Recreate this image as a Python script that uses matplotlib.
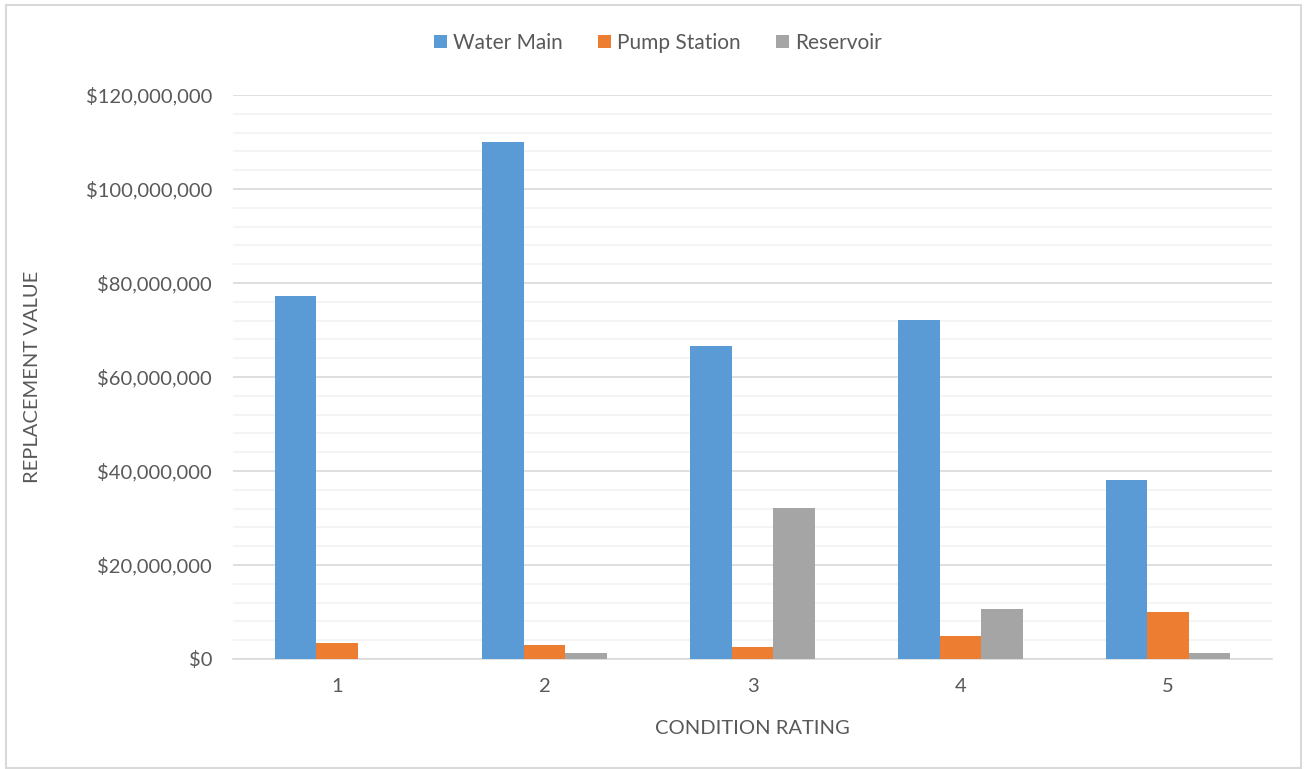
import matplotlib.pyplot as plt
import numpy as np
from matplotlib.ticker import FuncFormatter, MultipleLocator
from matplotlib.patches import Rectangle

plt.rcParams['font.family'] = ['Lato', 'DejaVu Sans']

ratings = ['1', '2', '3', '4', '5']
water_main = [77.3e6, 110.0e6, 66.7e6, 72.1e6, 38.1e6]
pump_station = [3.4e6, 2.9e6, 2.6e6, 4.8e6, 10.0e6]
reservoir = [0.0, 1.3e6, 32.2e6, 10.6e6, 1.3e6]

series = [('Water Main', water_main, '#5B9BD5'),
          ('Pump Station', pump_station, '#ED7D31'),
          ('Reservoir', reservoir, '#A5A5A5')]

W, H = 1307, 769
fig = plt.figure(figsize=(W / 100, H / 100), dpi=100)
ax = fig.add_axes([233 / W, 1 - 659 / H, (1272 - 233) / W, (659 - 95) / H])

x = np.arange(len(ratings))
bw = 0.2
for i, (name, vals, col) in enumerate(series):
    ax.bar(x + (i - 1) * bw, vals, bw, color=col, label=name, zorder=3)

ax.set_xlim(-0.5, len(ratings) - 0.5)
ax.set_ylim(0, 120e6)
ax.yaxis.set_major_locator(MultipleLocator(20e6))
ax.yaxis.set_minor_locator(MultipleLocator(4e6))
ax.yaxis.set_major_formatter(FuncFormatter(lambda v, p: '${:,.0f}'.format(v)))
ax.grid(axis='y', which='major', color='#D9D9D9', lw=1.2, zorder=0)
ax.grid(axis='y', which='minor', color='#F2F2F2', lw=1.2, zorder=0)
ax.set_xticks(x)
ax.set_xticklabels(ratings)
ax.tick_params(axis='both', which='both', length=0, labelsize=14.5, colors='#595959')
ax.tick_params(axis='x', pad=14)
ax.tick_params(axis='y', pad=15)
for s in ['top', 'right', 'left']:
    ax.spines[s].set_visible(False)
ax.spines['bottom'].set_color('#D9D9D9')
ax.spines['bottom'].set_linewidth(1.2)

ax.set_xlabel('CONDITION RATING', fontsize=14.5, color='#595959', labelpad=18)
ax.set_ylabel('REPLACEMENT VALUE', fontsize=14.5, color='#595959')
ax.yaxis.set_label_coords(-0.185, 0.5)

fig.legend(loc='center', bbox_to_anchor=(658 / W, 1 - 43 / H), ncol=3, frameon=False,
           fontsize=15, labelcolor='#595959', handlelength=0.6, handleheight=0.6,
           handletextpad=0.3, columnspacing=1.7)

fig.patches.append(Rectangle((6 / W, 1 / H), 1295 / W, 763 / H, transform=fig.transFigure,
                             fill=False, edgecolor='#D9D9D9', lw=1.5))

fig.savefig('out.png', dpi=100)
